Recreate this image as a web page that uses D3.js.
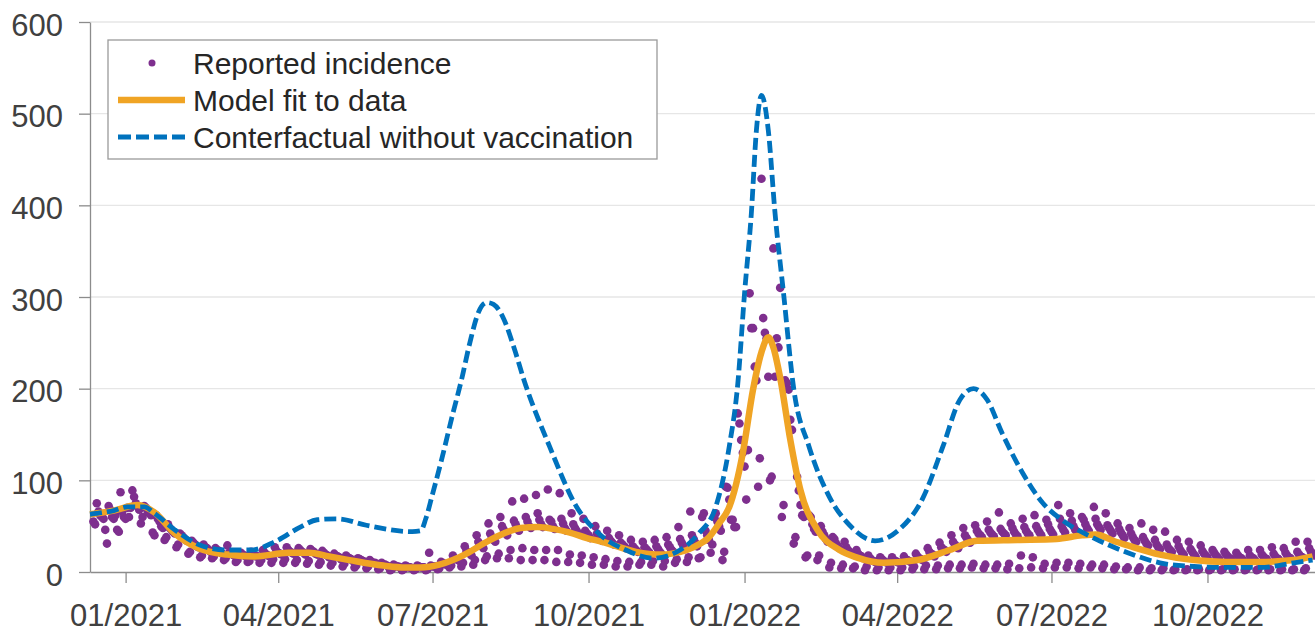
<!DOCTYPE html>
<html>
<head>
<meta charset="utf-8">
<script src="https://cdn.jsdelivr.net/npm/d3@7"></script>
<style>
  html, body { margin: 0; padding: 0; background: #fff; }
  svg { display: block; font-family: 'Liberation Sans', Arial, Helvetica, sans-serif; }
</style>
</head>
<body>
<svg id="chart" width="1315" height="633"></svg>
<script>
// reported incidence, one array per weekday, one value per week (weeks start on Sunday)
var WEEK0 = '2020-12-13';
var sun = [55,46,46,60,53,43,35,27,20,16,15,13,11,11,10,10,10,10,9,8,7,6,5,4,3,2,2,2,2,3,
  5,6,8,13,15,15,13,13,13,11,11,10,8,8,6,6,8,8,6,10,11,15,21,13,49,79,93,100,60,31,
  16,13,5,4,4,2,2,2,2,3,3,3,4,4,5,4,4,3,4,5,4,5,5,4,5,4,3,3,2,2,
  2,2,2,2,2,2,2,2,2,2,2,2,2];
var mon = [52,31,44,70,60,40,38,30,22,18,17,15,13,12,13,14,14,13,12,11,10,9,7,6,4,3,3,3,3,4,
  7,10,13,17,20,24,26,24,24,24,19,18,16,14,12,11,11,12,12,14,16,16,30,22,49,133,124,104,73,38,
  18,18,10,8,6,6,5,5,5,6,7,7,8,8,9,8,8,9,18,16,9,10,10,9,8,8,6,5,5,4,
  4,3,3,3,3,3,3,3,3,3,3,3,4];
var tue = [75,72,87,89,72,62,52,42,34,30,26,29,20,22,24,27,27,26,25,23,20,18,15,13,10,8,7,7,21,11,
  18,28,40,53,60,77,80,84,90,86,64,58,50,45,40,35,33,35,38,49,66,60,60,93,173,304,429,353,209,104,
  62,50,38,33,24,18,16,16,17,20,26,32,40,48,51,55,65,53,58,62,57,73,64,60,71,64,53,48,53,46,
  44,35,33,29,24,22,21,24,24,27,26,33,33];
var wed = [66,68,66,82,70,58,48,40,32,27,24,21,21,20,21,23,24,24,23,21,18,16,14,11,8,7,6,6,7,10,
  15,23,33,42,50,56,60,64,57,58,52,45,42,37,32,28,27,28,30,36,40,64,64,92,162,266,277,213,206,89,
  60,44,36,27,20,15,14,13,14,17,22,27,33,40,45,46,47,48,49,50,52,58,56,57,58,51,47,42,38,35,
  30,28,25,23,21,19,18,18,19,20,21,22,26];
var thu = [62,60,60,75,66,55,46,38,30,26,23,20,19,18,19,21,22,22,22,19,17,15,13,10,8,6,5,5,6,9,
  14,21,30,38,46,52,55,57,55,53,48,42,38,34,30,26,25,25,27,32,36,45,55,79,144,266,261,255,199,73,
  52,40,31,24,18,13,12,12,13,15,20,25,30,37,42,43,44,44,45,46,47,50,50,52,52,48,43,38,34,30,
  26,24,22,20,18,17,16,16,17,17,18,19,22];
var fri = [60,58,58,72,64,50,44,36,28,24,22,19,18,17,18,20,21,21,20,18,16,14,12,10,7,6,5,5,6,8,
  13,20,28,35,43,48,50,52,50,48,45,40,36,32,28,24,23,22,24,28,32,40,50,57,130,224,255,245,166,62,
  47,36,28,22,17,12,11,11,12,14,19,24,28,34,40,41,42,41,42,43,44,46,46,48,49,45,40,35,31,27,
  24,21,19,18,16,15,15,15,15,15,16,17,20];
var sat = [58,62,70,68,62,48,42,34,27,22,20,18,17,17,17,19,20,19,19,16,14,12,11,9,6,5,4,5,6,8,
  12,18,26,33,40,45,48,49,47,45,42,37,34,30,26,22,21,20,22,25,28,35,45,57,115,209,213,310,155,60,
  44,33,26,20,15,11,10,10,11,13,17,22,26,32,38,39,40,39,40,40,41,43,44,45,46,42,37,33,29,25,
  22,19,17,16,14,14,13,13,14,14,15,16,18];

// model fit to data
var fitDates = ['2020-12-11','2020-12-25','2021-01-08','2021-01-18','2021-01-30','2021-02-13','2021-03-02',
  '2021-03-18','2021-04-07','2021-04-19','2021-05-01','2021-05-13','2021-06-02','2021-06-15','2021-06-24',
  '2021-07-05','2021-07-13','2021-07-21','2021-08-02','2021-08-12','2021-08-22','2021-09-01','2021-09-10',
  '2021-09-20','2021-09-30','2021-10-09','2021-10-29','2021-11-12','2021-11-28','2021-12-06','2021-12-10',
  '2021-12-17','2021-12-23','2021-12-31','2022-01-06','2022-01-11','2022-01-15','2022-01-18','2022-01-22',
  '2022-01-28','2022-02-03','2022-02-13','2022-02-26','2022-03-08','2022-03-24','2022-04-13','2022-05-02',
  '2022-05-18','2022-06-11','2022-07-04','2022-07-19','2022-07-27','2022-08-08','2022-08-15','2022-09-03',
  '2022-09-23','2022-10-12','2022-11-01','2022-11-21','2022-12-02'];
var fitValues = [63,67,73,65,42,26,19,17,21,21,17,13,7,5,5,8,13,20,33,42,48,49,47,43,37,33,22,19,24,31,36,
  53,71,130,199,240,256,245,212,144,89,46,24,16,10,13,24,34,35,36,40,41,33,29,19,13,11,11,13,17];

// counterfactual without vaccination
var cfDates = ['2020-12-11','2020-12-25','2021-01-02','2021-01-12','2021-01-18','2021-01-30','2021-02-13',
  '2021-03-01','2021-03-16','2021-03-30','2021-04-14','2021-04-24','2021-05-06','2021-05-23','2021-06-19',
  '2021-06-24','2021-06-27','2021-07-01','2021-07-06','2021-07-13','2021-07-18','2021-07-23','2021-07-28',
  '2021-08-02','2021-08-06','2021-08-12','2021-08-18','2021-08-24','2021-09-08','2021-09-24','2021-10-07',
  '2021-10-23','2021-11-08','2021-11-24','2021-12-05','2021-12-15','2021-12-23','2021-12-28','2022-01-01',
  '2022-01-05','2022-01-08','2022-01-11','2022-01-15','2022-01-19','2022-01-24','2022-01-30','2022-02-08',
  '2022-02-20','2022-03-04','2022-03-19','2022-04-02','2022-04-16','2022-04-28','2022-05-08','2022-05-16',
  '2022-05-24','2022-06-02','2022-06-14','2022-06-26','2022-07-07','2022-07-26','2022-08-15','2022-09-03',
  '2022-09-23','2022-10-12','2022-11-01','2022-11-21','2022-12-02'];
var cfValues = [63,67,71,71,64,46,30,24,24,33,49,57,58,51,44,45,58,85,120,173,209,250,283,294,292,276,245,
  209,137,71,42,24,15,24,42,71,137,205,304,391,482,520,482,391,304,200,137,82,51,34,46,80,137,188,200,188,
  151,108,75,57,37,21,10,6,5,5,10,13];

var yTicks = [0, 100, 200, 300, 400, 500, 600];
var xTickDates = ['2021-01-01','2021-04-01','2021-07-01','2021-10-01','2022-01-01','2022-04-01','2022-07-01','2022-10-01'];
var xTickLabels = ['01/2021','04/2021','07/2021','10/2021','01/2022','04/2022','07/2022','10/2022'];
var legendLabels = ['Reported incidence', 'Model fit to data', 'Conterfactual without vaccination'];

var PURPLE = '#7e2f8e', ORANGE = '#f0a424', BLUE = '#0072bd';

var parse = d3.timeParse('%Y-%m-%d');
var svg = d3.select('#chart');

var x = d3.scaleTime()
  .domain([parse('2020-12-11'), parse('2022-12-04')])
  .range([90, 1316]);
var y = d3.scaleLinear().domain([0, 600]).range([572, 22]);

// grid
svg.append('g').selectAll('line')
  .data(yTicks.slice(1))
  .enter().append('line')
  .attr('x1', 90).attr('x2', 1315)
  .attr('y1', function (d) { return y(d); })
  .attr('y2', function (d) { return y(d); })
  .style('stroke', '#e6e6e6')
  .style('stroke-width', 1.3);

// axes
var yAxis = svg.append('g')
  .attr('transform', 'translate(90,0)')
  .call(d3.axisLeft(y).tickValues(yTicks).tickSize(11).tickSizeOuter(0).tickPadding(16));
var xAxis = svg.append('g')
  .attr('transform', 'translate(0,572)')
  .call(d3.axisBottom(x)
    .tickValues(xTickDates.map(parse))
    .tickFormat(function (d, i) { return xTickLabels[i]; })
    .tickSize(11).tickSizeOuter(0).tickPadding(21));

[yAxis, xAxis].forEach(function (ax) {
  ax.selectAll('path, line').style('stroke', '#8c8c8c').style('stroke-width', 1.3);
  ax.selectAll('text')
    .style('font-family', "'Liberation Sans', Arial, sans-serif")
    .style('font-size', '31px')
    .style('fill', '#404040');
});
yAxis.selectAll('text').attr('dy', '0.42em');

// reported incidence points
var days = [sun, mon, tue, wed, thu, fri, sat];
var start = parse(WEEK0);
var points = [];
days.forEach(function (arr, k) {
  arr.forEach(function (v, i) {
    points.push({ date: d3.timeDay.offset(start, i * 7 + k), value: v });
  });
});
points.sort(function (a, b) { return a.date - b.date; });

svg.append('g').selectAll('circle')
  .data(points)
  .enter().append('circle')
  .attr('cx', function (d) { return x(d.date); })
  .attr('cy', function (d) { return y(d.value); })
  .attr('r', 4.3)
  .style('fill', PURPLE);

// lines
var line = d3.line()
  .x(function (d) { return x(d.date); })
  .y(function (d) { return y(d.value); })
  .curve(d3.curveMonotoneX);

function series(dates, values) {
  return dates.map(function (d, i) { return { date: parse(d), value: values[i] }; });
}

svg.append('path')
  .datum(series(fitDates, fitValues))
  .attr('d', line)
  .style('fill', 'none')
  .style('stroke', ORANGE)
  .style('stroke-width', 6.5);

svg.append('path')
  .datum(series(cfDates, cfValues))
  .attr('d', line)
  .style('fill', 'none')
  .style('stroke', BLUE)
  .style('stroke-width', 4.8)
  .style('stroke-dasharray', '12,5');

// legend
var legend = svg.append('g');
legend.append('rect')
  .attr('x', 108).attr('y', 40)
  .attr('width', 549).attr('height', 119)
  .style('fill', '#fff')
  .style('stroke', '#9a9a9a')
  .style('stroke-width', 1.3);

legend.append('circle')
  .attr('cx', 152).attr('cy', 63).attr('r', 3.5)
  .style('fill', PURPLE);
legend.append('line')
  .attr('x1', 118).attr('x2', 185).attr('y1', 100).attr('y2', 100)
  .style('stroke', ORANGE).style('stroke-width', 6.5);
legend.append('line')
  .attr('x1', 118).attr('x2', 185).attr('y1', 137).attr('y2', 137)
  .style('stroke', BLUE).style('stroke-width', 4.8)
  .style('stroke-dasharray', '13,5');

legend.selectAll('text')
  .data(legendLabels)
  .enter().append('text')
  .attr('x', 193)
  .attr('y', function (d, i) { return 74 + i * 37; })
  .style('font-size', '30px')
  .style('fill', '#262626')
  .text(function (d) { return d; });
</script>
</body>
</html>
